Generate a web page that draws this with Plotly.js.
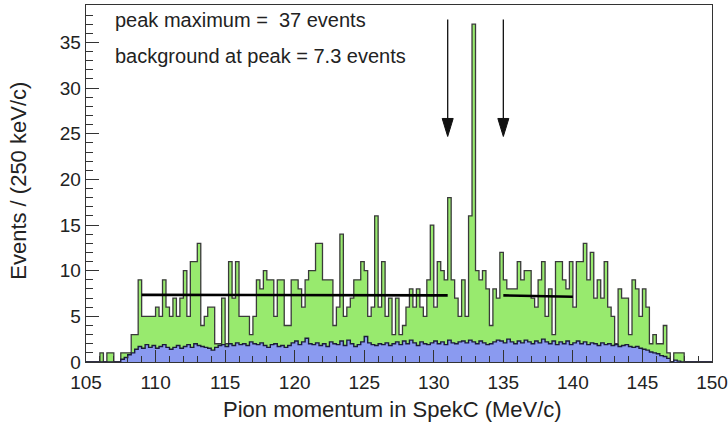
<!DOCTYPE html>
<html>
<head>
<meta charset="utf-8">
<script src="https://cdn.plot.ly/plotly-3.0.1.min.js"></script>
<style>html,body{margin:0;padding:0;background:#fff}</style>
</head>
<body>
<div id="chart" style="width:728px;height:427px"></div>
<script>
// Pion momentum spectrum in SpekC, 250 keV/c bins from 105 to 150 MeV/c
const binStart = 105;
const binWidth = 0.25;

// all events per bin
const totalCounts = [
  0,0,0,0,1,0,1,1,0,0,
  1,1,1,3,3,9,5,5,5,5,
  6,5,9,6,5,7,5,7,10,5,
  11,11,13,4,5,6,6,2,2,7,
  2,11,7,11,5,5,5,3,5,9,
  8,10,9,9,5,9,9,4,4,9,
  9,8,6,9,10,10,13,13,9,9,
  9,4,6,14,5,6,7,9,9,11,
  10,5,6,16,6,11,5,7,3,7,
  3,4,6,8,6,8,6,5,9,15,
  6,11,10,9,18,9,7,5,9,5,
  16,37,10,9,10,8,4,8,7,12,
  9,8,8,8,11,9,10,10,7,6,
  9,11,5,8,3,11,11,9,8,11,
  6,11,11,13,9,12,7,9,7,11,
  6,5,2,8,7,7,3,9,8,5,
  8,6,2,3,2,2,4,1,0,1,
  1,1,0,0,0,0,0,0,0,0
];

// background component per bin
const bgCounts = [
  0,0,0,0,0,0,0,0,0,0,
  0.3,0.5,0.8,1.0,1.4,1.7,1.5,1.9,1.6,1.8,
  1.5,1.7,1.9,1.6,1.4,1.6,1.8,1.5,1.7,1.9,
  1.6,2.0,1.8,1.7,1.6,1.5,1.3,1.6,1.8,1.9,
  1.7,2.0,1.8,2.1,1.9,2.0,1.8,2.2,2.0,1.9,
  2.1,1.8,1.6,1.9,2.0,1.7,1.8,1.6,1.8,2.1,
  2.3,1.9,2.2,2.6,2.0,1.9,2.1,1.8,2.0,1.7,
  2.2,2.0,1.9,2.3,1.8,2.4,2.0,1.7,1.9,2.2,
  2.8,2.1,1.9,1.8,2.0,1.9,2.1,1.8,2.0,2.2,
  1.9,2.3,2.0,2.4,2.1,1.8,2.2,2.0,1.9,2.1,
  2.3,2.0,2.2,1.9,2.4,2.1,2.0,2.2,2.3,2.1,
  2.4,2.2,2.0,2.3,2.1,1.9,2.0,2.2,2.4,2.3,
  2.1,2.5,2.2,2.0,2.3,2.1,2.4,2.2,2.0,2.3,
  2.1,2.5,2.2,2.0,2.3,1.9,2.2,2.0,2.3,1.9,
  2.1,2.3,2.0,2.2,1.9,2.1,2.0,1.8,2.1,1.9,
  2.0,1.8,1.9,1.7,1.8,1.9,1.7,1.6,1.7,1.5,
  1.4,1.3,1.1,1.0,0.9,0.7,0.6,0.4,0,0.2,
  0.1,0,0,0,0,0,0,0,0,0
];

// flat background fits on both sides of the peak
const fitLeftX = [109, 131];
const fitLeftY = [7.35, 7.3];
const fitRightX = [135, 140];
const fitRightY = [7.3, 7.15];

// signal window markers
const arrowX = [131, 135];
const arrowTop = 37.5;
const arrowTip = 24.7;

const infoLines = ['peak maximum =  37 events', 'background at peak = 7.3 events'];

const xTickVals = [105, 110, 115, 120, 125, 130, 135, 140, 145, 150];
const yTickVals = [0, 5, 10, 15, 20, 25, 30, 35];

// step outline: left edge of every bin, then the closing right edge
function stepTrace(counts) {
  const xs = [], ys = [];
  counts.forEach((c, i) => { xs.push(binStart + i * binWidth); ys.push(c); });
  xs.push(binStart + counts.length * binWidth);
  ys.push(counts[counts.length - 1]);
  return {x: xs, y: ys};
}

const tot = stepTrace(totalCounts);
const bg = stepTrace(bgCounts);
const FONT = '"Liberation Sans", Arial, Helvetica, sans-serif';
const INK = '#222';

const traces = [
  {x: tot.x, y: tot.y, type: 'scatter', mode: 'lines',
   line: {shape: 'hv', color: '#3a3a3a', width: 1.3},
   fill: 'tozeroy', fillcolor: '#98ea6e', hoverinfo: 'skip'},
  {x: bg.x, y: bg.y, type: 'scatter', mode: 'lines',
   line: {shape: 'hv', color: '#1c1c3a', width: 1.4},
   fill: 'tozeroy', fillcolor: '#8a9af0', hoverinfo: 'skip'},
  {x: fitLeftX, y: fitLeftY, type: 'scatter', mode: 'lines',
   line: {color: '#000', width: 2.6}, hoverinfo: 'skip'},
  {x: fitRightX, y: fitRightY, type: 'scatter', mode: 'lines',
   line: {color: '#000', width: 2.6}, hoverinfo: 'skip'}
];

const shapes = [];
arrowX.forEach(ax => {
  shapes.push({type: 'line', xref: 'x', yref: 'y', x0: ax, x1: ax, y0: arrowTop, y1: arrowTip + 1,
               line: {color: '#111', width: 1.3}});
  shapes.push({type: 'path', xref: 'x', yref: 'y', xsizemode: 'pixel', ysizemode: 'pixel',
               xanchor: ax, yanchor: arrowTip, path: 'M-5.5,18L5.5,18L0,0Z',
               fillcolor: '#111', line: {color: '#111', width: 1}});
});

const annotations = [
  {text: infoLines[0], xref: 'paper', yref: 'paper', x: 0.043, y: 0.957,
   xanchor: 'left', yanchor: 'middle', showarrow: false, font: {family: FONT, size: 20, color: INK}},
  {text: infoLines[1], xref: 'paper', yref: 'paper', x: 0.043, y: 0.857,
   xanchor: 'left', yanchor: 'middle', showarrow: false, font: {family: FONT, size: 20, color: INK}},
  {text: 'Pion momentum in SpekC (MeV/c)', xref: 'paper', yref: 'paper', x: 0.49, y: -0.134,
   xanchor: 'center', yanchor: 'middle', showarrow: false, font: {family: FONT, size: 22, color: INK}},
  {text: 'Events / (250 keV/c)', xref: 'paper', yref: 'paper', x: -0.109, y: 0.507,
   xanchor: 'center', yanchor: 'middle', textangle: -90, showarrow: false,
   font: {family: FONT, size: 22, color: INK}}
];

const layout = {
  width: 728, height: 427,
  margin: {l: 86, r: 16, t: 5, b: 65},
  paper_bgcolor: '#fff', plot_bgcolor: '#fff',
  showlegend: false,
  font: {family: FONT, color: INK},
  xaxis: {
    range: [105, 150], tickmode: 'array', tickvals: xTickVals, ticktext: xTickVals.map(String),
    ticks: 'inside', ticklen: 12, tickwidth: 1, tickcolor: '#333', ticklabelstandoff: 3,
    minor: {dtick: 1, ticks: 'inside', ticklen: 6, tickcolor: '#333', tickwidth: 1},
    showline: true, linecolor: '#333', linewidth: 1.4, mirror: true,
    showgrid: false, zeroline: false, tickfont: {size: 19, family: FONT, color: INK}
  },
  yaxis: {
    range: [0, 39.1], tickmode: 'array', tickvals: yTickVals, ticktext: yTickVals.map(String),
    ticks: 'inside', ticklen: 13, tickwidth: 1, tickcolor: '#333',
    minor: {dtick: 1, ticks: 'inside', ticklen: 7, tickcolor: '#333', tickwidth: 1},
    showline: true, linecolor: '#333', linewidth: 1.4, mirror: true,
    showgrid: false, zeroline: false, tickfont: {size: 19, family: FONT, color: INK}
  },
  shapes: shapes,
  annotations: annotations
};

Plotly.newPlot('chart', traces, layout, {displayModeBar: false, staticPlot: true});
</script>
</body>
</html>
